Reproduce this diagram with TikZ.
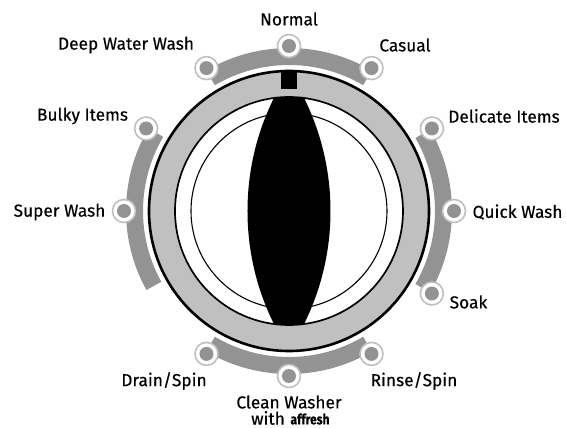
\documentclass[tikz,border=0pt]{standalone}
\usepackage{fontspec}
\setmainfont[FakeBold=0.35]{Fira Sans}
\definecolor{bandgray}{HTML}{939393}
\definecolor{ringgray}{HTML}{C0C0C0}
\tikzset{
  modelabel/.style={inner sep=0pt,font=\fontsize{17.3}{18}\selectfont,text=black},
  modeband/.style={draw=none,fill=bandgray},
  knobdot/.style={circle,minimum size=23pt,inner sep=0pt,draw=ringgray,line width=1.6pt,fill=white},
  knobcore/.style={circle,minimum size=14pt,inner sep=0pt,fill=bandgray}
}
\newcommand{\modeband}[2]{\fill[modeband] (#1:146) arc[start angle=#1,end angle=#2,radius=146] -- (#2:163) arc[start angle=#2,end angle=#1,radius=163] -- cycle;}
\newcommand{\knob}[2]{\node[knobdot] (d#1) at (#2:165) {}; \node[knobcore] (c#1) at (d#1.center) {};}
\begin{document}
\begin{tikzpicture}[x=1pt,y=1pt]
\useasboundingbox (-289,-217) rectangle (277,211);
% mode bands
\modeband{59.5}{120.5}
\modeband{149.5}{209}
\modeband{-30}{30}
\modeband{239.5}{300.5}
% knobs
\knob{normal}{90}
\knob{casual}{60}
\knob{delicate}{30}
\knob{quick}{0}
\knob{soak}{-30}
\knob{rinse}{-60}
\knob{clean}{-90}
\knob{drain}{-120}
\knob{super}{180}
\knob{bulky}{150}
\knob{deep}{120}
% dial
\fill[ringgray] (0,0) circle[radius=140];
\fill[white] (0,0) circle[radius=114];
\begin{scope}
\clip (0,0) circle[radius=114];
\clip (212.5,0) circle[radius=254];
\fill[black] (-212.5,0) circle[radius=254];
\end{scope}
\draw[line width=2.6pt] (0,0) circle[radius=140];
\draw[line width=1.7pt] (0,0) circle[radius=114];
\begin{scope}[even odd rule]
\clip (212.5,0) circle[radius=254] (-300,-300) rectangle (300,300);
\draw[line width=1.1pt] (0,0) circle[radius=98];
\end{scope}
\begin{scope}[even odd rule]
\clip (-212.5,0) circle[radius=254] (-300,-300) rectangle (300,300);
\draw[line width=1.1pt] (0,0) circle[radius=98];
\end{scope}
\fill[black] (-8,122) rectangle (8,140);
% labels
\node[modelabel,anchor=center] (tnormal) at (0,192) {Normal};
\node[modelabel,anchor=center] (tcasual) at (116,166) {Casual};
\node[modelabel,anchor=center] (tdeep) at (-163,166) {Deep Water Wash};
\node[modelabel,anchor=center] (tbulky) at (-206.5,95) {Bulky Items};
\node[modelabel,anchor=center] (tdelicate) at (215,95) {Delicate Items};
\node[modelabel,anchor=center] (tsuper) at (-229.5,-1) {Super Wash};
\node[modelabel,anchor=center] (tquick) at (228.5,-1) {Quick Wash};
\node[modelabel,anchor=center] (tsoak) at (179.5,-91) {Soak};
\node[modelabel,anchor=center] (tdrain) at (-125,-170) {Drain/Spin};
\node[modelabel,anchor=center] (trinse) at (125,-170) {Rinse/Spin};
\node[modelabel,anchor=center] (tclean) at (0,-191) {Clean Washer};
\node[modelabel,anchor=center] (twith) at (-21,-207) {with};
\node[inner sep=0pt,font=\fontsize{12}{12}\selectfont\bfseries,anchor=center,yscale=1.2] (taffresh) at (21,-208) {affresh};
\end{tikzpicture}
\end{document}
